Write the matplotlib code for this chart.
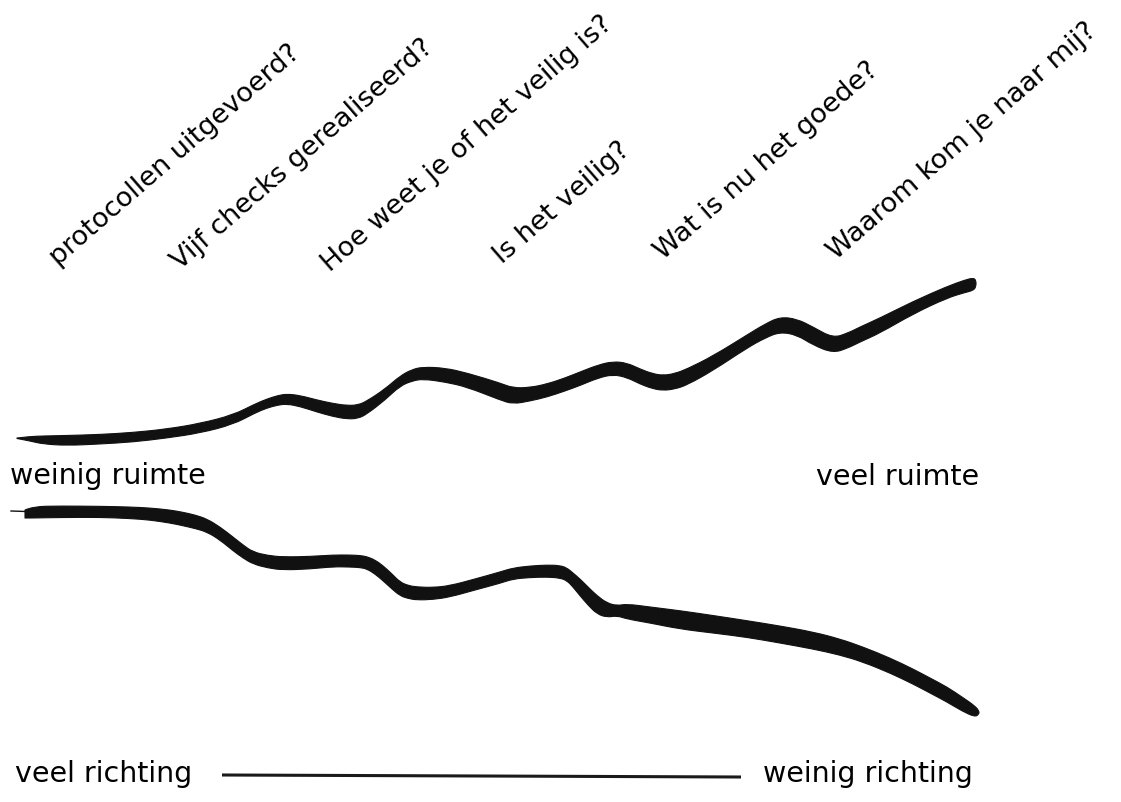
import matplotlib
matplotlib.use("Agg")
import matplotlib.pyplot as plt
from matplotlib.path import Path
from matplotlib.patches import PathPatch

# ---- data (pixel-space coordinates) ----
question_labels = [
    "protocollen uitgevoerd?",
    "Vijf checks gerealiseerd?",
    "Hoe weet je of het veilig is?",
    "Is het veilig?",
    "Wat is nu het goede?",
    "Waarom kom je naar mij?",
]
question_x = [58, 180, 330, 502, 663, 836]
question_y = [266, 270, 272, 264, 260, 260]
question_angle = 41

# upper stroke ("ruimte"): x, top edge, bottom edge
upper_x = [17, 30, 43, 67, 100, 133, 167, 200, 233, 255, 267, 278, 287, 300, 317,
           333, 347, 358, 367, 385, 400, 412, 423, 445, 467, 500, 513, 530, 547,
           565, 580, 598, 613, 627, 640, 652, 663, 675, 687, 713, 747, 765, 780,
           797, 813, 833, 848, 860, 880, 913, 947, 965, 973, 976]
upper_top = [439, 437.5, 437, 436.5, 435.5, 433.5, 430, 424.5, 416, 405, 400, 396.5,
             395, 396.5, 401, 404.5, 406.5, 406, 402, 390, 377, 370.5, 368, 369,
             374, 384, 389, 388.5, 385, 379, 373, 366, 362.5, 364, 370, 374.5, 376.5,
             374.5, 370, 357, 336, 325, 318, 320, 328, 339, 334, 328, 319, 302.5,
             287.5, 281, 279, 281]
upper_bottom = [439.5, 442, 445, 446.5, 445, 443, 439, 434, 425.5, 414, 409, 406,
                405, 407.5, 413, 417.5, 420, 419.5, 415, 401, 387, 382, 380, 383,
                388, 401, 405, 402, 398, 392, 386.5, 379, 375.5, 378.5, 385, 389.5,
                391.5, 390, 386, 371.5, 349, 339, 333, 336, 346, 354, 349, 343, 334,
                315, 299, 293.5, 291.5, 288]

# lower stroke ("richting"): x, top edge, bottom edge
lower_x = [25, 33, 60, 100, 130, 150, 170, 183, 195, 207, 220, 233, 243, 253, 268,
           283, 310, 333, 350, 360, 367, 375, 383, 392, 400, 408, 417, 433, 450,
           475, 500, 513, 530, 547, 560, 567, 573, 580, 588, 597, 607, 617, 627,
           650, 680, 713, 747, 780, 813, 840, 863, 890, 913, 930, 947, 962, 975, 979]
lower_top = [511, 507.5, 507, 507.3, 508, 509, 511, 513.3, 516, 520, 528, 538, 546,
             553, 556.5, 558, 557.5, 556, 556, 556.5, 557.7, 561, 566.7, 575, 583,
             586.5, 588, 588.5, 586.7, 580, 573, 569, 567, 566, 566.5, 569, 574, 580,
             588, 596.7, 604, 606.7, 605, 608, 611.7, 616.5, 621.7, 627, 633, 640,
             648, 659, 670, 679, 688, 698, 707, 712]
lower_bottom = [519, 519, 518.5, 518.3, 519.5, 521, 524, 526.7, 529.5, 533, 541,
                551.7, 559, 565, 569, 571, 570, 567.7, 568, 568.5, 570, 575, 581.7,
                590, 596.7, 599.5, 601, 600.5, 598, 591, 584.3, 580, 578.5, 578,
                579, 581.7, 588, 596.7, 606, 615, 618.3, 616.7, 620, 624, 630, 634,
                638.3, 644, 650, 656, 663, 674, 685, 694, 703, 712, 718, 715]

side_labels = ["weinig ruimte", "veel ruimte", "veel richting", "weinig richting"]
side_x = [10, 816, 15, 763]
side_y = [484, 485, 782, 782]

axis_line_x = [222, 741]
axis_line_y = [776, 778]


def smooth_stroke_path(xs, top, bottom):
    """Closed path: top edge left->right, bottom edge right->left, drawn as
    quadratic Bezier segments with the read points as control points."""
    pts = list(zip(xs, top)) + list(zip(xs[::-1], bottom[::-1]))
    verts = [pts[0]]
    codes = [Path.MOVETO]
    n = len(pts)
    for i in range(1, n - 1):
        mx = (pts[i][0] + pts[i + 1][0]) / 2.0
        my = (pts[i][1] + pts[i + 1][1]) / 2.0
        verts += [pts[i], (mx, my)]
        codes += [Path.CURVE3, Path.CURVE3]
    verts += [pts[-1], pts[0]]
    codes += [Path.LINETO, Path.CLOSEPOLY]
    return Path(verts, codes)


# ---- drawing ----
fig = plt.figure(figsize=(11.21, 8.03), dpi=100)
ax = fig.add_axes([0, 0, 1, 1])
ax.set_xlim(0, 1121)
ax.set_ylim(803, 0)
ax.axis("off")

ink = "#111111"
for xs, tp, bt in [(upper_x, upper_top, upper_bottom),
                   (lower_x, lower_top, lower_bottom)]:
    ax.add_patch(PathPatch(smooth_stroke_path(xs, tp, bt), facecolor=ink,
                           edgecolor=ink, linewidth=0.8, joinstyle="round"))
# thin lead-in tip of the lower stroke
ax.plot([11, 26], [512, 512.5], color=ink, lw=1.0)

font = "DejaVu Sans"
for lab, x, y in zip(question_labels, question_x, question_y):
    ax.text(x, y, lab, rotation=question_angle, rotation_mode="anchor",
            ha="left", va="baseline", fontsize=19.5, family=font, color="black")

for lab, x, y in zip(side_labels, side_x, side_y):
    ax.text(x, y, lab, ha="left", va="baseline", fontsize=20.5, family=font,
            color="black")

ax.plot(axis_line_x, axis_line_y, color="#1a1a1a", lw=2.2, solid_capstyle="butt")

fig.savefig("out.png", dpi=100)
